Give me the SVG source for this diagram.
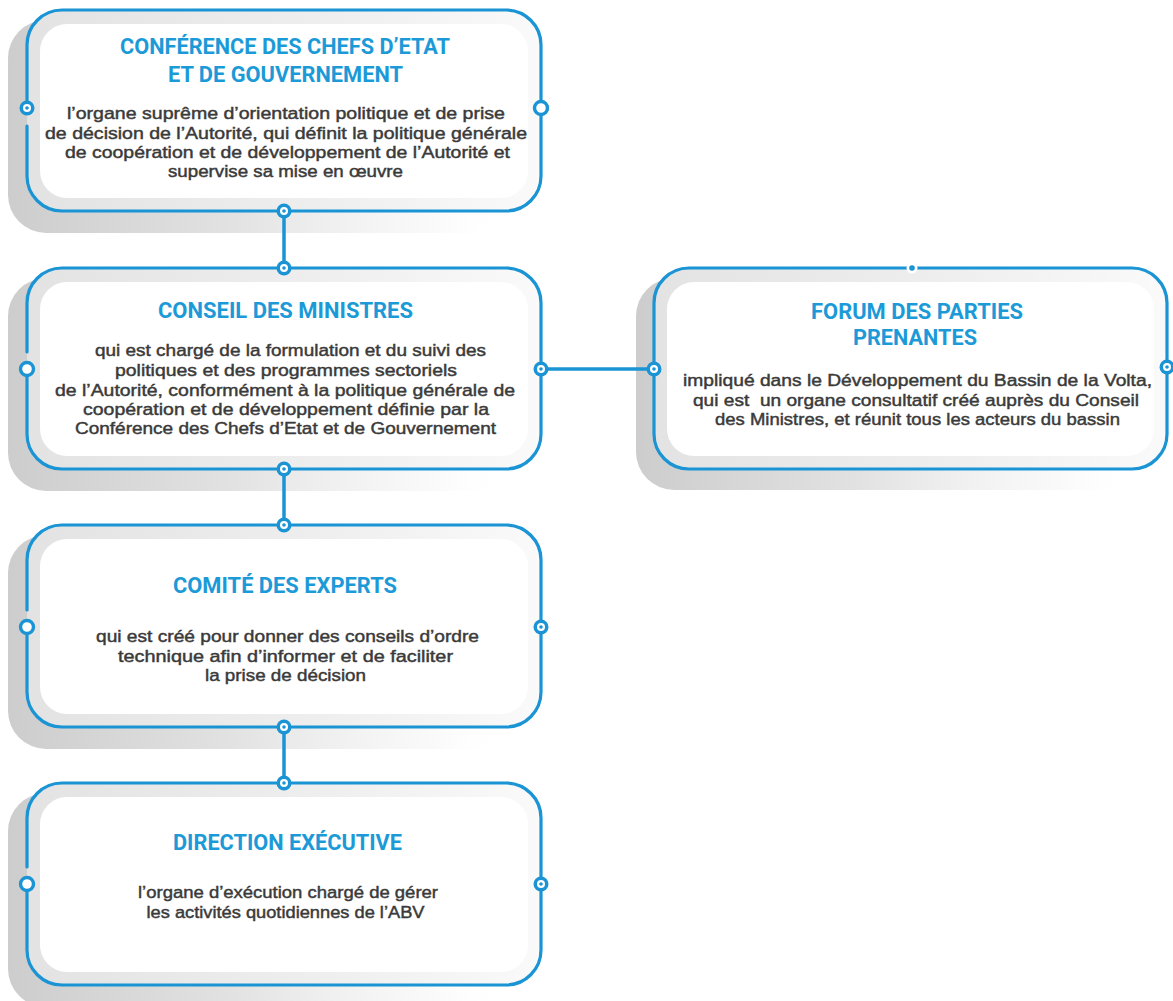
<svg xmlns="http://www.w3.org/2000/svg" width="1173" height="1001" viewBox="0 0 1173 1001">
<defs>
<linearGradient id="shadowGrad" x1="0" y1="0" x2="1" y2="0">
<stop offset="0" stop-color="#cdcdcd"/>
<stop offset="0.45" stop-color="#e2e2e2"/>
<stop offset="0.85" stop-color="#f6f6f6" stop-opacity="0.6"/>
<stop offset="1" stop-color="#ffffff" stop-opacity="0"/>
</linearGradient>
<linearGradient id="cardGrad" x1="0" y1="0" x2="1" y2="0">
<stop offset="0" stop-color="#e3e3e3"/>
<stop offset="0.6" stop-color="#efefef"/>
<stop offset="1" stop-color="#fafafa"/>
</linearGradient>
</defs>
<style>
.shadow{fill:url(#shadowGrad);}
.card{fill:url(#cardGrad);}
.inner{fill:#ffffff;}
.border{fill:none;stroke:#1a94d4;stroke-width:3.2;stroke-linecap:round;}
.link{fill:none;stroke:#1a94d4;stroke-width:3.5;}
.title{font-family:Roboto,"Liberation Sans",sans-serif;font-weight:700;font-size:22.5px;fill:#1c9ad8;text-anchor:middle;}
.body{font-family:"Liberation Sans",Arial,sans-serif;font-weight:400;font-size:16.8px;fill:#3a3a3a;stroke:#3a3a3a;stroke-width:0.45;text-anchor:middle;}
.ring{fill:#ffffff;stroke:#1a94d4;stroke-width:3.4;}
.dotO{fill:#1a94d4;}
.dotW{fill:#ffffff;}
</style>
<rect width="1173" height="1001" fill="#ffffff"/>

<g id="conference">
<rect class="shadow" x="8" y="20" width="500" height="213" rx="38"/>
<rect class="card" x="27" y="10" width="514" height="201" rx="35"/>
<rect class="inner" x="40" y="24" width="488" height="174" rx="27"/>
<path class="border" d="M27,108 L27,45 A35,35 0 0 1 62,10 L506,10 A35,35 0 0 1 541,45 L541,176 A35,35 0 0 1 506,211 L62,211 A35,35 0 0 1 27,176 L27,126"/>
<text class="title" x="285" y="54" textLength="330" lengthAdjust="spacingAndGlyphs">CONFÉRENCE DES CHEFS D’ETAT</text>
<text class="title" x="285.5" y="81.5" textLength="235" lengthAdjust="spacingAndGlyphs">ET DE GOUVERNEMENT</text>
<text class="body" x="286" y="119" textLength="438" lengthAdjust="spacingAndGlyphs">l’organe suprême d’orientation politique et de prise</text>
<text class="body" x="286" y="139" textLength="482" lengthAdjust="spacingAndGlyphs">de décision de l’Autorité, qui définit la politique générale</text>
<text class="body" x="287.5" y="158" textLength="445" lengthAdjust="spacingAndGlyphs">de coopération et de développement de l’Autorité et</text>
<text class="body" x="285.5" y="177" textLength="235" lengthAdjust="spacingAndGlyphs">supervise sa mise en œuvre</text>
<circle class="dotO" cx="27" cy="108" r="7.5"/><circle class="dotW" cx="27" cy="108" r="4"/><circle class="dotO" cx="27" cy="108" r="1.8"/>
<circle class="ring" cx="541" cy="108" r="6.5"/>
</g>

<g id="conseil">
<rect class="shadow" x="8" y="278" width="500" height="213" rx="38"/>
<rect class="card" x="27" y="268" width="514" height="201" rx="35"/>
<rect class="inner" x="40" y="282" width="488" height="174" rx="27"/>
<path class="border" d="M27,369 L27,434 A35,35 0 0 0 62,469 L506,469 A35,35 0 0 0 541,434 L541,303 A35,35 0 0 0 506,268 L62,268 A35,35 0 0 0 27,303 L27,352"/>
<text class="title" x="285.5" y="318" textLength="255" lengthAdjust="spacingAndGlyphs">CONSEIL DES MINISTRES</text>
<text class="body" x="290.5" y="356" textLength="391" lengthAdjust="spacingAndGlyphs">qui est chargé de la formulation et du suivi des</text>
<text class="body" x="286" y="376" textLength="342" lengthAdjust="spacingAndGlyphs">politiques et des programmes sectoriels</text>
<text class="body" x="285" y="395.5" textLength="460" lengthAdjust="spacingAndGlyphs">de l’Autorité, conformément à la politique générale de</text>
<text class="body" x="286" y="415" textLength="406" lengthAdjust="spacingAndGlyphs">coopération et de développement définie par la</text>
<text class="body" x="285.5" y="434" textLength="421" lengthAdjust="spacingAndGlyphs">Conférence des Chefs d’Etat et de Gouvernement</text>
<circle class="ring" cx="27" cy="369" r="6.5"/>
</g>

<g id="comite">
<rect class="shadow" x="8" y="535" width="500" height="214" rx="38"/>
<rect class="card" x="27" y="525" width="514" height="202" rx="35"/>
<rect class="inner" x="40" y="539" width="488" height="175" rx="27"/>
<path class="border" d="M27,627 L27,692 A35,35 0 0 0 62,727 L506,727 A35,35 0 0 0 541,692 L541,560 A35,35 0 0 0 506,525 L62,525 A35,35 0 0 0 27,560 L27,610"/>
<text class="title" x="285" y="593" textLength="224" lengthAdjust="spacingAndGlyphs">COMITÉ DES EXPERTS</text>
<text class="body" x="287.5" y="642" textLength="383" lengthAdjust="spacingAndGlyphs">qui est créé pour donner des conseils d’ordre</text>
<text class="body" x="285.5" y="661.5" textLength="335" lengthAdjust="spacingAndGlyphs">technique afin d’informer et de faciliter</text>
<text class="body" x="285.5" y="680.5" textLength="161" lengthAdjust="spacingAndGlyphs">la prise de décision</text>
<circle class="ring" cx="27" cy="627" r="6.5"/>
</g>

<g id="direction">
<rect class="shadow" x="8" y="793" width="500" height="214" rx="38"/>
<rect class="card" x="27" y="783" width="514" height="202" rx="35"/>
<rect class="inner" x="40" y="797" width="488" height="175" rx="27"/>
<path class="border" d="M27,884 L27,950 A35,35 0 0 0 62,985 L506,985 A35,35 0 0 0 541,950 L541,818 A35,35 0 0 0 506,783 L62,783 A35,35 0 0 0 27,818 L27,867"/>
<text class="title" x="287.5" y="850" textLength="229" lengthAdjust="spacingAndGlyphs">DIRECTION EXÉCUTIVE</text>
<text class="body" x="288" y="898" textLength="300" lengthAdjust="spacingAndGlyphs">l’organe d’exécution chargé de gérer</text>
<text class="body" x="285.5" y="917.5" textLength="278" lengthAdjust="spacingAndGlyphs">les activités quotidiennes de l’ABV</text>
<circle class="ring" cx="27" cy="884" r="6.5"/>
</g>

<g id="forum">
<rect class="shadow" x="636" y="278" width="500" height="212" rx="38"/>
<rect class="card" x="654" y="268" width="513" height="201" rx="35"/>
<rect class="inner" x="667" y="282" width="487" height="174" rx="27"/>
<rect class="border" x="654" y="268" width="513" height="201" rx="35"/>
<circle class="dotW" cx="912" cy="268" r="5.5"/>
<circle class="dotO" cx="912" cy="268" r="2.8"/>
<text class="title" x="917" y="319" textLength="212" lengthAdjust="spacingAndGlyphs">FORUM DES PARTIES</text>
<text class="title" x="915" y="345" textLength="124" lengthAdjust="spacingAndGlyphs">PRENANTES</text>
<text class="body" x="917.5" y="386" textLength="469" lengthAdjust="spacingAndGlyphs">impliqué dans le Développement du Bassin de la Volta,</text>
<text class="body" x="916" y="405.5" textLength="446" lengthAdjust="spacingAndGlyphs" xml:space="preserve">qui est  un organe consultatif créé auprès du Conseil</text>
<text class="body" x="917.5" y="425" textLength="405" lengthAdjust="spacingAndGlyphs">des Ministres, et réunit tous les acteurs du bassin</text>
<circle class="dotO" cx="1167" cy="367" r="7.5"/><circle class="dotW" cx="1167" cy="367" r="4"/><circle class="dotO" cx="1167" cy="367" r="1.8"/>
</g>

<g id="connectors">
<line class="link" x1="284" y1="211" x2="284" y2="268"/>
<line class="link" x1="284" y1="469" x2="284" y2="525"/>
<line class="link" x1="284" y1="727" x2="284" y2="783"/>
<line class="link" x1="541" y1="369" x2="654" y2="369"/>
<g>
<circle class="dotO" cx="284" cy="211" r="7.5"/><circle class="dotW" cx="284" cy="211" r="4"/><circle class="dotO" cx="284" cy="211" r="1.8"/>
<circle class="dotO" cx="284" cy="268" r="7.5"/><circle class="dotW" cx="284" cy="268" r="4"/><circle class="dotO" cx="284" cy="268" r="1.8"/>
<circle class="dotO" cx="284" cy="469" r="7.5"/><circle class="dotW" cx="284" cy="469" r="4"/><circle class="dotO" cx="284" cy="469" r="1.8"/>
<circle class="dotO" cx="284" cy="525" r="7.5"/><circle class="dotW" cx="284" cy="525" r="4"/><circle class="dotO" cx="284" cy="525" r="1.8"/>
<circle class="dotO" cx="284" cy="727" r="7.5"/><circle class="dotW" cx="284" cy="727" r="4"/><circle class="dotO" cx="284" cy="727" r="1.8"/>
<circle class="dotO" cx="284" cy="783" r="7.5"/><circle class="dotW" cx="284" cy="783" r="4"/><circle class="dotO" cx="284" cy="783" r="1.8"/>
<circle class="dotO" cx="541" cy="369" r="7.5"/><circle class="dotW" cx="541" cy="369" r="4"/><circle class="dotO" cx="541" cy="369" r="1.8"/>
<circle class="dotO" cx="654" cy="369" r="7.5"/><circle class="dotW" cx="654" cy="369" r="4"/><circle class="dotO" cx="654" cy="369" r="1.8"/>
<circle class="dotO" cx="541" cy="627" r="7.5"/><circle class="dotW" cx="541" cy="627" r="4"/><circle class="dotO" cx="541" cy="627" r="1.8"/>
<circle class="dotO" cx="541" cy="884" r="7.5"/><circle class="dotW" cx="541" cy="884" r="4"/><circle class="dotO" cx="541" cy="884" r="1.8"/>
</g>
</g>
</svg>
